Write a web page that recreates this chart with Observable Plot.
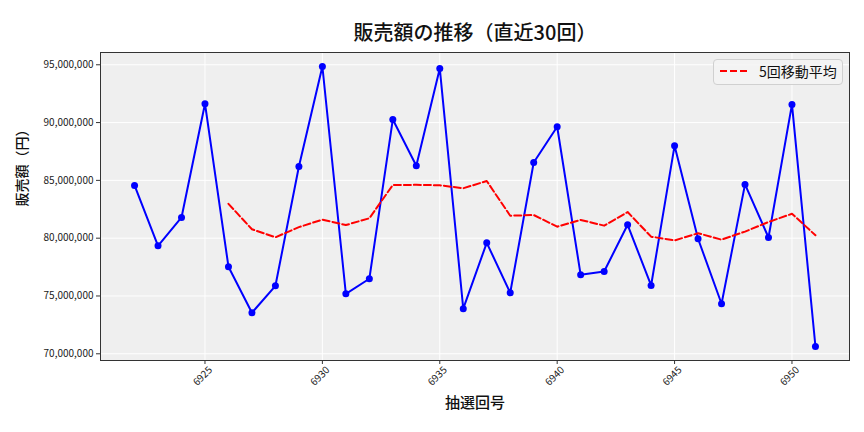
<!DOCTYPE html>
<html><head><meta charset="utf-8">
<script src="https://cdn.jsdelivr.net/npm/d3@7"></script>
<script src="https://cdn.jsdelivr.net/npm/@observablehq/plot@0.6"></script>
<style>
body{margin:0;background:#fff;}
#wrap{position:relative;width:864px;height:432px;font-family:"Noto Sans CJK JP",sans-serif;}
#legend{position:absolute;left:713px;top:59px;width:130px;height:26px;border:1px solid #d0d0d0;border-radius:4px;background:rgba(243,243,243,0.85);box-sizing:border-box;}
#legend svg{position:absolute;left:5px;top:0;}
#legend span{position:absolute;left:45px;top:2px;font-size:14px;color:#111;line-height:19px;white-space:nowrap;}
</style></head><body><div id="wrap"></div>
<script>
const draws = [6922,6923,6924,6925,6926,6927,6928,6929,6930,6931,6932,6933,6934,6935,6936,6937,6938,6939,6940,6941,6942,6943,6944,6945,6946,6947,6948,6949,6950,6951];
const sales = [84560000,79340000,81790000,91630000,77530000,73550000,75880000,86200000,94850000,75190000,76490000,90270000,86260000,94680000,73900000,79600000,75280000,86550000,89640000,76830000,77120000,81160000,75910000,88000000,79950000,74330000,84650000,80060000,91570000,70630000];
const xTicks = [6925,6930,6935,6940,6945,6950];
const yTicks = [70000000,75000000,80000000,85000000,90000000,95000000];
const titleText = "販売額の推移（直近30回）";
const xLabel = "抽選回号";
const yLabel = "販売額（円）";
const legendLabel = "5回移動平均";
const windowSize = 5;

const rows = draws.map((d,i)=>({draw:d, value:sales[i]}));
const maRows = [];
for (let i = windowSize-1; i < sales.length; i++) {
  maRows.push({draw: draws[i], value: d3.mean(sales.slice(i-windowSize+1, i+1))});
}
const ext = d3.extent(draws), yext = d3.extent(sales);
const xm = (ext[1]-ext[0])*0.05, ym = (yext[1]-yext[0])*0.05;

const chart = Plot.plot({
  width:864, height:432,
  marginLeft:100, marginRight:15, marginTop:52, marginBottom:72,
  style:{fontFamily:"'Noto Sans CJK JP', sans-serif", fontSize:"10px", color:"#222", background:"#fff"},
  x:{domain:[ext[0]-xm, ext[1]+xm]},
  y:{domain:[yext[0]-ym, yext[1]+ym]},
  marks:[
    Plot.frame({fill:"#efefef"}),
    Plot.gridX(xTicks,{stroke:"#fff", strokeOpacity:1, strokeWidth:1}),
    Plot.gridY(yTicks,{stroke:"#fff", strokeOpacity:1, strokeWidth:1}),
    Plot.axisY(yTicks,{tickFormat:d3.format(","), tickSize:4, tickPadding:3, label:null, fontSize:10, stroke:"#333"}),
    Plot.axisX(xTicks,{tickSize:4, tickFormat:()=>"", label:null, stroke:"#333"}),
    Plot.text(xTicks,{x:d=>d, frameAnchor:"bottom", dy:18, rotate:-45, text:d=>String(d), fontSize:10, fill:"#222"}),
    Plot.line(rows,{x:"draw", y:"value", stroke:"#0000ff", strokeWidth:2}),
    Plot.dot(rows,{x:"draw", y:"value", fill:"#0000ff", r:3.5}),
    Plot.line(maRows,{x:"draw", y:"value", stroke:"#ff0000", strokeWidth:2, strokeDasharray:"7,3"}),
    Plot.frame({stroke:"#333", strokeWidth:1}),
    Plot.text([titleText],{frameAnchor:"top", dy:-27, fontSize:20, fontWeight:500, fill:"#111"}),
    Plot.text([xLabel],{frameAnchor:"bottom", dy:47, fontSize:15, fontWeight:500, fill:"#111"}),
    Plot.text([yLabel],{frameAnchor:"left", dx:-78, rotate:-90, fontSize:14, fontWeight:500, fill:"#111"})
  ]
});
const wrap = document.getElementById("wrap");
wrap.appendChild(chart);
const lg = document.createElement("div");
lg.id = "legend";
lg.innerHTML = `<svg width="36" height="24"><line x1="1" y1="11" x2="29" y2="11" stroke="#ff0000" stroke-width="2" stroke-dasharray="7,3"/></svg><span></span>`;
lg.querySelector("span").textContent = legendLabel;
wrap.appendChild(lg);
</script>
</body></html>
